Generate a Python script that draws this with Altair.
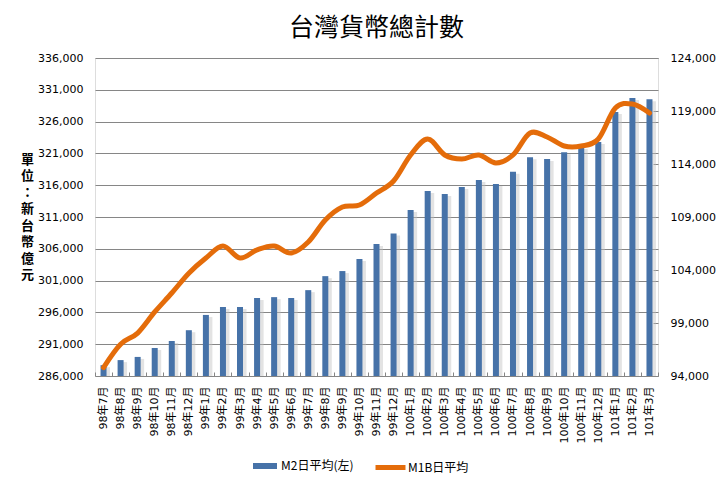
import altair as alt
import pandas as pd

months = ["98年7月", "98年8月", "98年9月", "98年10月", "98年11月", "98年12月",
          "99年1月", "99年2月", "99年3月", "99年4月", "99年5月", "99年6月",
          "99年7月", "99年8月", "99年9月", "99年10月", "99年11月", "99年12月",
          "100年1月", "100年2月", "100年3月", "100年4月", "100年5月", "100年6月",
          "100年7月", "100年8月", "100年9月", "100年10月", "100年11月", "100年12月",
          "101年1月", "101年2月", "101年3月"]

m2 = [287700, 288500, 289000, 290400, 291500, 293200,
      295600, 296850, 296850, 298260, 298400, 298260,
      299500, 301700, 302500, 304400, 306750, 308400,
      312100, 315100, 314600, 315700, 316800, 316200,
      318100, 320400, 320100, 321200, 322000, 322800,
      327500, 329700, 329500]

m1b = [94800, 97000, 98050, 100040, 101830, 103700,
       105130, 106260, 105130, 105900, 106260, 105600,
       106640, 108720, 109940, 110130, 111260, 112400,
       114850, 116360, 114850, 114470, 114850, 114100,
       114850, 116920, 116550, 115700, 115700, 116360,
       119280, 119660, 118810]

left_ticks = [286000, 291000, 296000, 301000, 306000, 311000, 316000, 321000, 326000, 331000, 336000]
right_ticks = [94000, 99000, 104000, 109000, 114000, 119000, 124000]

df = pd.DataFrame({"month": months, "m2": m2, "m1b": m1b,
                   "s2": "M2日平均(左)", "s1": "M1B日平均"})

LAB_FONT = "DejaVu Sans, Noto Sans CJK TC"
CJK = "Noto Sans CJK TC"
GRID = "#868686"
BLUE = "#4672A8"
ORANGE = "#E46C0A"

x_enc = alt.X("month:N", sort=months, title=None,
              scale=alt.Scale(paddingInner=0, paddingOuter=0),
              axis=alt.Axis(labelAngle=270, labelFont=LAB_FONT, labelFontSize=11,
                            labelColor="#000", domain=False, ticks=True,
                            tickBand="extent", tickSize=4, tickColor=GRID,
                            offset=-4, labelPadding=10, grid=False))

yl_enc = alt.Y("m2:Q", scale=alt.Scale(domain=[286000, 336000], zero=False, nice=False),
               axis=alt.Axis(values=left_ticks, format=",d", grid=True, gridColor=GRID,
                             gridWidth=1, ticks=False, domain=False, labelOverlap=False,
                             labelFont=LAB_FONT, labelFontSize=11, labelColor="#000",
                             labelPadding=12,
                             title=["單", "位", "：", "新", "台", "幣", "億", "元"],
                             titleFont=CJK, titleFontSize=13, titleFontWeight="bold",
                             titleColor="#000", titleAngle=0, titleAlign="center",
                             titleBaseline="top", titleX=-68, titleY=95,
                             titleLineHeight=16.5))

shadow = alt.Chart(df).mark_bar(color="#c0c0c0", opacity=0.45, size=5,
                                xOffset=4, yOffset=2, clip=True).encode(
    x=x_enc,
    y=yl_enc,
    y2=alt.datum(286000),
)

bars = alt.Chart(df).mark_bar(size=6).encode(
    x=x_enc,
    y=yl_enc,
    y2=alt.datum(286000),
    fill=alt.Fill("s2:N", scale=alt.Scale(domain=["M2日平均(左)"], range=[BLUE]),
                  legend=alt.Legend(title=None, orient="none", legendX=158, legendY=396,
                                    symbolType="M-1,-0.25H1V0.25H-1Z", symbolSize=576,
                                    symbolStrokeWidth=0, labelFont=CJK, labelFontSize=12,
                                    labelColor="#000", labelOffset=4)),
)

line = alt.Chart(df).mark_line(strokeWidth=5, interpolate="cardinal", strokeCap="round",
                               strokeJoin="round").encode(
    x=x_enc,
    y=alt.Y("m1b:Q", scale=alt.Scale(domain=[94000, 124000], zero=False, nice=False),
            axis=alt.Axis(orient="right", values=right_ticks, format=",d", grid=False,
                          domain=False, ticks=True, tickSize=5, tickColor=GRID,
                          offset=-5, labelFont=LAB_FONT, labelFontSize=11,
                          labelOverlap=False,
                          labelColor="#000", labelPadding=12, title=None)),
    stroke=alt.Stroke("s1:N", scale=alt.Scale(domain=["M1B日平均"], range=[ORANGE]),
                      legend=alt.Legend(title=None, orient="none", legendX=278, legendY=392,
                                        symbolType="stroke", symbolSize=900,
                                        symbolStrokeWidth=5, labelFont=CJK,
                                        labelFontSize=12, labelColor="#000",
                                        labelOffset=0)),
)

chart = alt.layer(alt.layer(shadow, bars), line).resolve_scale(
    y="independent", fill="independent", stroke="independent"
).properties(
    width=563, height=318,
    autosize=alt.AutoSizeParams(type="none"),
    padding={"left": 87, "top": 50, "right": 58, "bottom": 103},
    title=alt.Title("台灣貨幣總計數", font=CJK, fontSize=25, fontWeight="normal",
                    color="#000", offset=11, anchor="middle", frame="group"),
).configure_view(stroke=GRID, strokeWidth=1.5).configure(background="white")

chart.save("out.html", embed_options={"renderer": "svg", "actions": False})
